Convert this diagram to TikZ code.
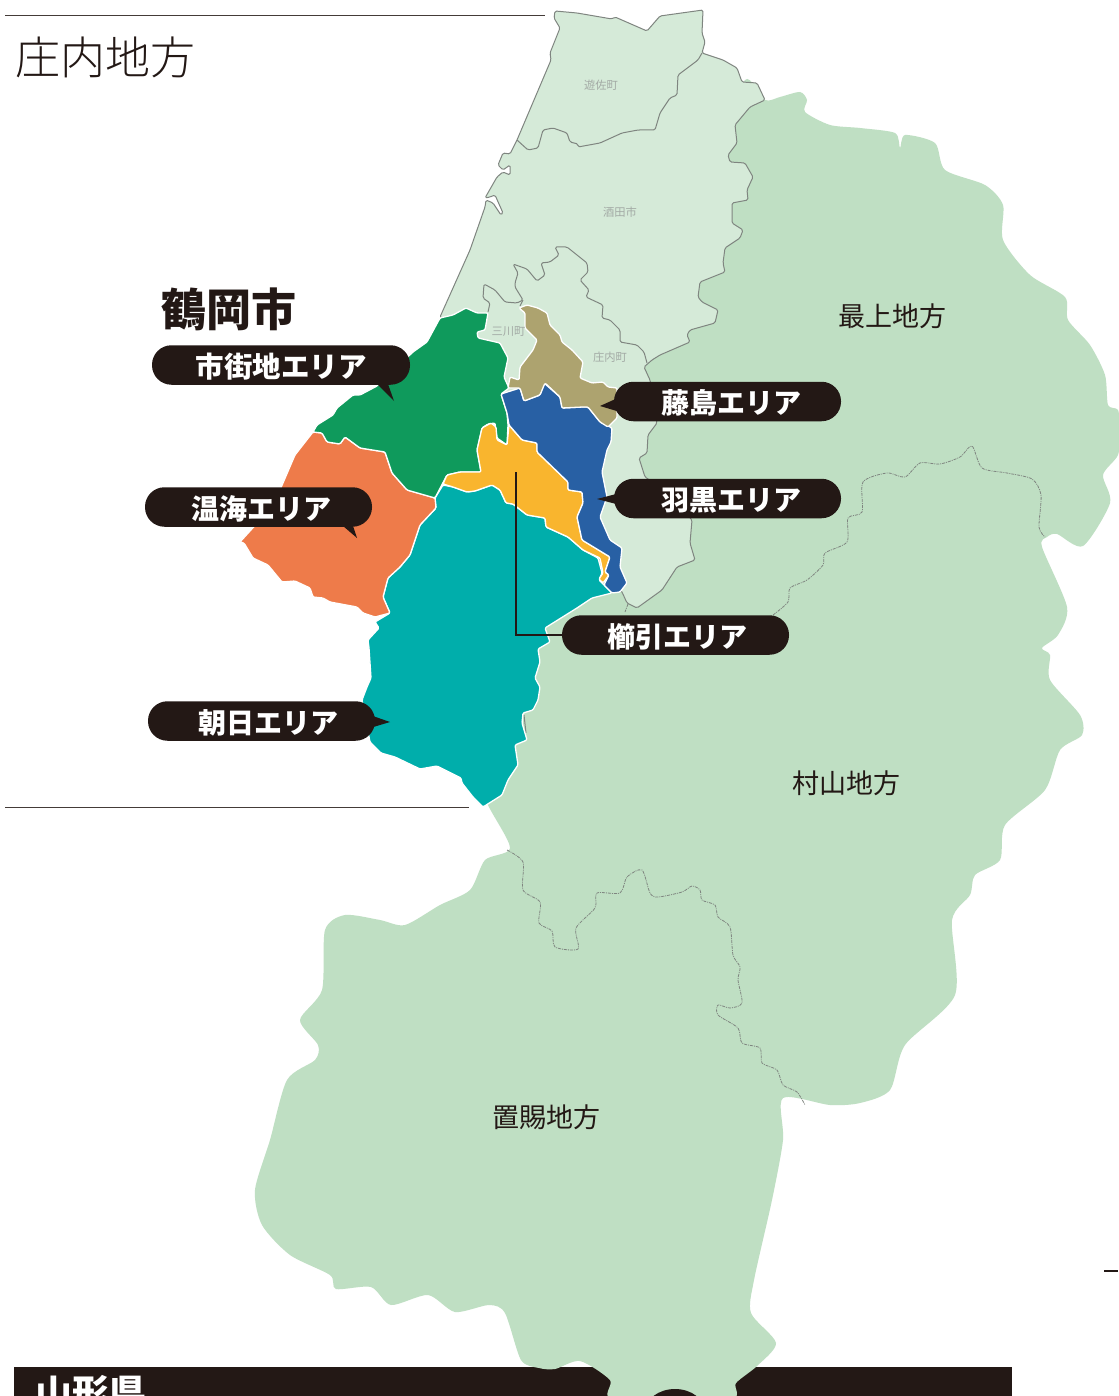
\documentclass[tikz,border=0pt]{standalone}
\usepackage{fontspec}
\setmainfont{Noto Sans CJK JP}
\newfontfamily\jplight{Noto Sans CJK JP Light}
\newfontfamily\jpblack{Noto Sans CJK JP Black}
\newcommand\pilltext[2]{\hspace*{#1}\rule{0pt}{27pt}#2}
\definecolor{darkland}{HTML}{BFDFC3}
\definecolor{lightland}{HTML}{D5EAD8}
\definecolor{inkblack}{HTML}{231815}
\definecolor{citygreen}{HTML}{0F9A5C}
\definecolor{cityorange}{HTML}{EE7B4A}
\definecolor{cityteal}{HTML}{00AEAB}
\definecolor{cityyellow}{HTML}{F9B52E}
\definecolor{cityblue}{HTML}{2860A4}
\definecolor{citykhaki}{HTML}{ADA36F}
\definecolor{bordergray}{HTML}{7F8580}
\definecolor{smallgray}{HTML}{A3AAA5}
\tikzset{
 area/.style={draw=white,line width=1.3pt,line join=round,rounded corners=1.2pt},
 pill/.style={fill=inkblack,rounded corners=19.5pt,minimum height=39.5pt,inner sep=0pt,text=white,font=\fontsize{28pt}{30pt}\selectfont\bfseries,anchor=center},
 tail/.style={fill=inkblack},
 regionlabel/.style={text=inkblack,font=\fontsize{27pt}{28pt}\selectfont,inner sep=0pt},
 townlabel/.style={text=smallgray,font=\fontsize{11.3pt}{12pt}\selectfont,inner sep=0pt},
 prefline/.style={draw=bordergray,line width=.8pt,dash pattern=on 3pt off 1pt on 1pt off 1pt,line join=round},
 cityline/.style={draw=bordergray,line width=1pt,line join=round},
 rule/.style={draw=inkblack!85,line width=1pt}
}
\begin{document}
\begin{tikzpicture}[x=1pt,y=-1pt]
\useasboundingbox (0,0) rectangle (1118,1396);
\fill[white] (0,0) rectangle (1118,1396);
% bottom band
\fill[inkblack] (14,1367) rectangle (1012,1396);
\node[text=white,font=\fontsize{37pt}{38pt}\selectfont\bfseries,inner sep=0pt,anchor=west] (pref) at (35,1393) {山形県};
\fill[inkblack] (1104,1270) rectangle (1118,1271.5);
% whole land
\fill[darkland] plot[smooth cycle,tension=.45] coordinates {
(765,100)(780,97)(800,92)(807,100)(805,112)(830,125)(860,128)(895,133)(900,148)(905,135)(935,143)(945,170)(985,185)(1003,205)(1003,240)(1030,275)(1065,297)(1068,320)(1090,345)(1105,375)(1108,405)(1118,410)(1120,430)(1118,455)(1103,475)(1110,503)(1083,546)(1057,534)(1047,537)(1042,547)(1067,607)(1058,635)(1042,648)(1050,655)(1050,680)(1080,715)(1082,735)(1060,750)(1045,790)(1005,825)(1000,860)(975,875)(970,895)(952,920)(955,995)(905,1045)(890,1090)(860,1103)(830,1105)(783,1098)(783,1140)(772,1200)(754,1280)(751,1313)(776,1343)(757,1366)(736,1383)(729,1400)(614,1400)(610,1380)(580,1361)(555,1369)(539,1368)(521,1360)(505,1313)(489,1305)(455,1312)(428,1295)(391,1305)(371,1287)(336,1289)(330,1275)(290,1255)(262,1225)(255,1190)(270,1140)(287,1080)(315,1060)(318,1045)(300,1020)(322,990)(325,930)(345,915)(380,920)(405,925)(440,905)(470,890)(485,860)(510,848)(488,805)(470,760)(480,650)(560,560)(620,500)(625,400)(635,350)(680,300)(720,150)(745,80)};
\fill[inkblack] (675,1412) ellipse (30 and 23);
% shonai land
\path[fill=lightland,cityline,rounded corners=1.5pt]
(555,11)--(577,13)--(612,19)--(615,17)--(647,31)--(660,16)--(703,10)--(702,33)--(705,42)--(702,53)--(723,60)--(737,68)--(742,82)--(757,83)--(765,100)--(750,107)--(735,125)--(737,143)--(728,155)--(730,162)--(745,163)--(753,177)--(747,190)--(748,200)--(732,203)--(732,223)--(743,230)--(740,238)--(725,248)--(723,263)--(725,272)--(700,282)--(698,297)--(702,302)--(718,310)--(715,323)--(690,330)--(687,335)--(690,342)--(660,355)--(652,360)--(644,367)--(650,380)--(657,423)--(648,435)--(647,453)--(639,458)--(645,477)--(665,490)--(692,520)--(690,543)--(695,560)--(677,567)--(662,590)--(637,608)--(627,603)--(622,592)--(560,500)--(500,400)--(440,317)--(470,250)--(485,207)--(486,200)--(493,203)--(501,215)--(503,213)--(495,195)--(490,197)--(485,198)--(497,177)--(503,172)--(510,175)--(510,165)--(503,170)--(498,165)--(503,153)--(510,154)--(517,140)--(551,60)--(550,53)--(560,28)--(554,18)--cycle;
% inner boundaries
\draw[cityline,rounded corners=1.5pt] (517,140)--(528,150)--(538,148)--(543,130)--(553,128)--(567,133)--(570,142)--(578,144)--(578,147)--(600,143)--(622,133)--(638,130)--(655,130)--(660,113)--(670,98)--(677,95)--(678,75)--(698,60)--(702,53);
\draw[cityline,rounded corners=1.5pt] (488,312)--(490,303)--(483,298)--(484,284)--(495,290)--(505,302)--(517,303)--(523,300)--(515,287)--(515,283)--(518,273)--(513,264)--(527,269)--(537,281)--(545,275)--(541,263)--(550,262)--(559,255)--(555,247)--(567,247)--(587,263)--(588,272)--(580,280)--(589,290)--(586,297)--(603,305)--(602,318)--(610,320)--(620,330)--(620,342)--(637,345)--(644,352)--(647,363);
\draw[cityline] (523,300)--(520,306);
% prefecture-internal dotted
\draw[prefline] plot[smooth,tension=.45] coordinates {(628,604)(625,612)};
\draw[prefline] plot[smooth,tension=.45] coordinates {(773,615)(788,602)(790,588)(807,580)(823,565)(825,553)(847,542)(848,518)(862,512)(863,482)(887,473)(905,477)(920,463)(940,464)(960,457)(972,446)(982,468)(1007,473)(1032,479)(1041,495)(1039,527)(1045,537)};
\draw[prefline] plot[smooth,tension=.45] coordinates {(507,850)(523,862)(523,890)(540,902)(539,923)(552,931)(555,947)(578,949)(576,928)(595,908)(597,893)(620,893)(627,877)(642,870)(650,893)(658,897)(682,892)(692,886)(700,890)(702,900)(715,905)(718,917)(730,927)(733,955)(740,967)(738,980)(742,1003)(730,1008)(718,1005)(718,1015)(738,1028)(742,1043)(760,1048)(762,1063)(777,1070)(783,1085)(797,1092)(805,1105)};
\draw[cityline] (524,715)--(526,733);
% colored areas
\path[area,fill=cityteal] (435,498)--(443,485)--(453,487)--(467,492)--(475,491)--(492,485)--(500,490)--(506,503)--(513,504)--(527,515)--(545,518)--(546,527)--(568,537)--(583,550)--(598,558)--(602,573)--(599,580)--(612,593)--(592,598)--(577,608)--(545,628)--(550,642)--(538,649)--(540,662)--(535,678)--(540,687)--(538,700)--(533,710)--(523,713)--(522,723)--(527,740)--(515,745)--(518,765)--(508,780)--(502,795)--(483,807)--(473,797)--(462,783)--(461,778)--(437,766)--(420,769)--(395,757)--(381,753)--(370,742)--(362,700)--(367,687)--(371,678)--(369,648)--(368,640)--(379,628)--(375,622)--(390,613)--(383,597)--(388,578)--(400,567)--(410,555)--(420,525)--(436,508)--cycle;
\path[area,fill=cityorange] (313,432)--(322,433)--(327,442)--(340,444)--(345,437)--(360,448)--(385,452)--(392,473)--(407,490)--(435,498)--(436,508)--(420,525)--(410,555)--(400,567)--(388,578)--(383,597)--(390,613)--(375,617)--(363,613)--(357,607)--(330,602)--(323,598)--(313,597)--(310,588)--(295,581)--(282,582)--(268,565)--(253,558)--(244,543)--(240,542)--(260,520)--(280,490)--(295,455)--cycle;
\path[area,fill=citygreen] (440,318)--(453,315)--(466,308)--(477,313)--(488,313)--(485,330)--(477,332)--(478,338)--(500,343)--(508,358)--(504,377)--(509,388)--(501,394)--(507,413)--(508,425)--(507,445)--(497,438)--(495,423)--(488,424)--(482,428)--(477,450)--(481,472)--(460,472)--(447,475)--(435,498)--(407,490)--(392,473)--(385,452)--(360,448)--(345,437)--(340,444)--(327,442)--(322,433)--(313,432)--(317,425)--(333,415)--(337,408)--(353,395)--(360,395)--(377,386)--(413,352)--(427,342)--cycle;
\path[area,fill=cityyellow] (443,484)--(447,475)--(460,472)--(481,472)--(477,450)--(482,428)--(491,423)--(496,427)--(497,440)--(507,445)--(509,425)--(522,440)--(537,443)--(537,452)--(568,482)--(568,490)--(582,492)--(583,503)--(577,517)--(582,540)--(610,557)--(605,572)--(609,575)--(603,583)--(599,579)--(603,573)--(600,558)--(583,550)--(568,537)--(546,527)--(545,518)--(527,515)--(513,504)--(506,503)--(500,490)--(492,485)--(475,491)--(467,492)--(453,487)--cycle;
\path[area,fill=cityblue] (501,394)--(520,388)--(524,401)--(540,395)--(544,383)--(560,397)--(562,408)--(583,407)--(588,407)--(600,422)--(612,428)--(611,442)--(607,450)--(602,472)--(607,497)--(600,517)--(610,540)--(622,548)--(620,567)--(627,583)--(620,592)--(612,593)--(604,585)--(609,575)--(605,572)--(610,557)--(582,540)--(577,517)--(583,503)--(582,492)--(568,490)--(568,482)--(537,452)--(537,443)--(522,440)--(509,425)--(507,413)--cycle;
\path[area,fill=citykhaki] (519,308)--(527,305)--(538,308)--(547,313)--(550,325)--(560,335)--(562,342)--(572,350)--(583,362)--(580,378)--(592,383)--(603,382)--(608,387)--(617,388)--(617,418)--(608,427)--(600,422)--(588,407)--(583,407)--(562,408)--(560,397)--(545,383)--(540,395)--(524,401)--(520,388)--(508,388)--(510,377)--(519,380)--(520,367)--(533,350)--(537,340)--(525,328)--(525,313)--cycle;
% rules
\draw[rule] (5,16)--(545,16);
\draw[rule] (5,807)--(469,807);
% headings
\node[text=inkblack,font=\fontsize{45pt}{46pt}\selectfont\jplight,inner sep=0pt] (shonai) at (105.5,57) {庄内地方};
\node[text=inkblack,font=\fontsize{45pt}{46pt}\selectfont\jpblack,inner sep=0pt] (tsuruoka) at (229,309) {鶴岡市};
\node[regionlabel] (mogami) at (892.5,316) {最上地方};
\node[regionlabel] (murayama) at (846,783) {村山地方};
\node[regionlabel] (okitama) at (546.5,1117) {置賜地方};
\node[townlabel] (yuza) at (601,85) {遊佐町};
\node[townlabel] (sakata) at (620,212) {酒田市};
\node[townlabel] (mikawa) at (508.5,332) {三川町};
\node[townlabel] (shonaitown) at (610,357) {庄内町};
% pills
\fill[tail] (377,384)--(394,401)--(388,384)--cycle;
\node[pill,minimum width=258pt,font=\fontsize{28.5pt}{30pt}\selectfont\bfseries] (shigai) at (281,365) {\pilltext{0pt}{市街地エリア}};
\fill[tail] (343,526)--(357,538)--(353,526)--cycle;
\node[pill,minimum width=227pt] (atsumi) at (258.5,507) {\pilltext{6pt}{温海エリア}};
\fill[tail] (370,715)--(390,722)--(370,728)--cycle;
\node[pill,minimum width=227pt] (asahi) at (261.5,721) {\pilltext{13pt}{朝日エリア}};
\fill[tail] (620,397)--(600,406)--(620,412)--cycle;
\node[pill,minimum width=227pt] (fujishima) at (727.5,401.5) {\pilltext{7pt}{藤島エリア}};
\fill[tail] (620,493)--(597,499)--(620,505)--cycle;
\node[pill,minimum width=227pt] (haguro) at (727.5,498.5) {\pilltext{7pt}{羽黒エリア}};
\coordinate (kushitip) at (516,472);
\draw[inkblack,line width=2.2pt] (kushitip)|-(565,635);
\node[pill,minimum width=227pt] (kushibiki) at (675.5,635) {\pilltext{4pt}{櫛引エリア}};
\end{tikzpicture}
\end{document}
